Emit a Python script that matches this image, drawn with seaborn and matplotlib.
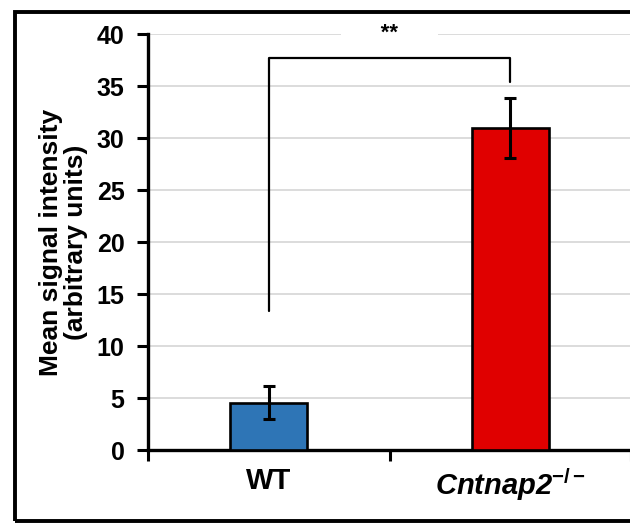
import matplotlib
matplotlib.use("Agg")
import matplotlib.pyplot as plt
import seaborn as sns
import pandas as pd
from matplotlib.patches import Rectangle

# ---- data ----
categories = ["WT", "Cntnap2"]
means = [4.55, 31.0]
errors = [1.6, 2.9]
bar_colors = ["#2E75B6", "#E00000"]
tick_labels = ["WT", r"Cntnap2$^{\mathbf{-/-}}$"]
bracket_x = ["WT", "WT", "Cntnap2", "Cntnap2"]
bracket_y = [13.4, 37.7, 37.7, 35.4]
sig_label = "**"
sig_y = 40.1
y_ticks = [0, 5, 10, 15, 20, 25, 30, 35, 40]

sns.set_theme(style="white")
plt.rcParams["font.family"] = ["Liberation Sans", "DejaVu Sans"]
plt.rcParams["text.color"] = "black"
plt.rcParams["axes.labelcolor"] = "black"
plt.rcParams["xtick.color"] = "black"
plt.rcParams["ytick.color"] = "black"
plt.rcParams["mathtext.fontset"] = "custom"
plt.rcParams["mathtext.rm"] = "Liberation Sans:bold"
plt.rcParams["mathtext.bf"] = "Liberation Sans:bold"
plt.rcParams["mathtext.it"] = "Liberation Sans:italic:bold"

df = pd.DataFrame({"group": categories, "value": means})

fig = plt.figure(figsize=(6.3, 5.23), dpi=100)
ax = fig.add_axes([148 / 630, 73 / 523, 483 / 630, (450 - 34.3) / 523])

sns.barplot(data=df, x="group", y="value", hue="group", palette=bar_colors,
            order=categories, hue_order=categories, legend=False,
            errorbar=None, width=0.32, edgecolor="black", linewidth=1.9,
            saturation=1, ax=ax, zorder=3)

ax.errorbar(categories, means, yerr=errors, fmt="none", ecolor="black",
            elinewidth=2.2, capsize=4, capthick=2.2, zorder=4)

ax.plot(bracket_x, bracket_y, color="black", lw=1.6, zorder=5, clip_on=False)

ax.text(0.5, sig_y, "      " + sig_label + "      ", ha="center", va="center",
        fontsize=16, fontweight="bold", color="black", zorder=6, clip_on=False,
        bbox=dict(facecolor="white", edgecolor="none", boxstyle="square,pad=0.15"))

ax.set_xlim(-0.5, 1.5)
ax.set_ylim(0, 40)
ax.set_yticks(y_ticks)
ax.set_yticklabels([str(t) for t in y_ticks], fontsize=18, fontweight="bold")
ax.set_xticks([0, 1])
ax.set_xticklabels(tick_labels, fontsize=21, fontweight="bold")
ax.get_xticklabels()[1].set_fontstyle("italic")
ax.set_xticks([-0.5, 0.5, 1.5], minor=True)
ax.tick_params(axis="x", which="major", length=0, pad=12, labelcolor="black")
ax.tick_params(axis="x", which="minor", length=8, width=2.2, color="black",
               direction="out", bottom=True)
ax.tick_params(axis="y", length=8, width=2.2, color="black", direction="out",
               pad=9, left=True, labelcolor="black")

ax.yaxis.grid(True, color="#d9d9d9", lw=1.3, zorder=0)
ax.set_axisbelow(True)
for s in ["top", "right"]:
    ax.spines[s].set_visible(False)
for s in ["left", "bottom"]:
    ax.spines[s].set_color("black")
    ax.spines[s].set_linewidth(2.4)

ax.set_xlabel("")
ax.set_ylabel("Mean signal intensity\n(arbitrary units)", fontsize=19,
              fontweight="bold", linespacing=1.05, color="black")
ax.yaxis.set_label_coords(-0.124, 0.5)

fig.patches.append(Rectangle((14.5 / 630, 2.5 / 523), 1.2, (511 - 2.5) / 523,
                             transform=fig.transFigure, fill=False,
                             edgecolor="black", lw=2.8, zorder=10))

fig.savefig("out.png", dpi=100)
